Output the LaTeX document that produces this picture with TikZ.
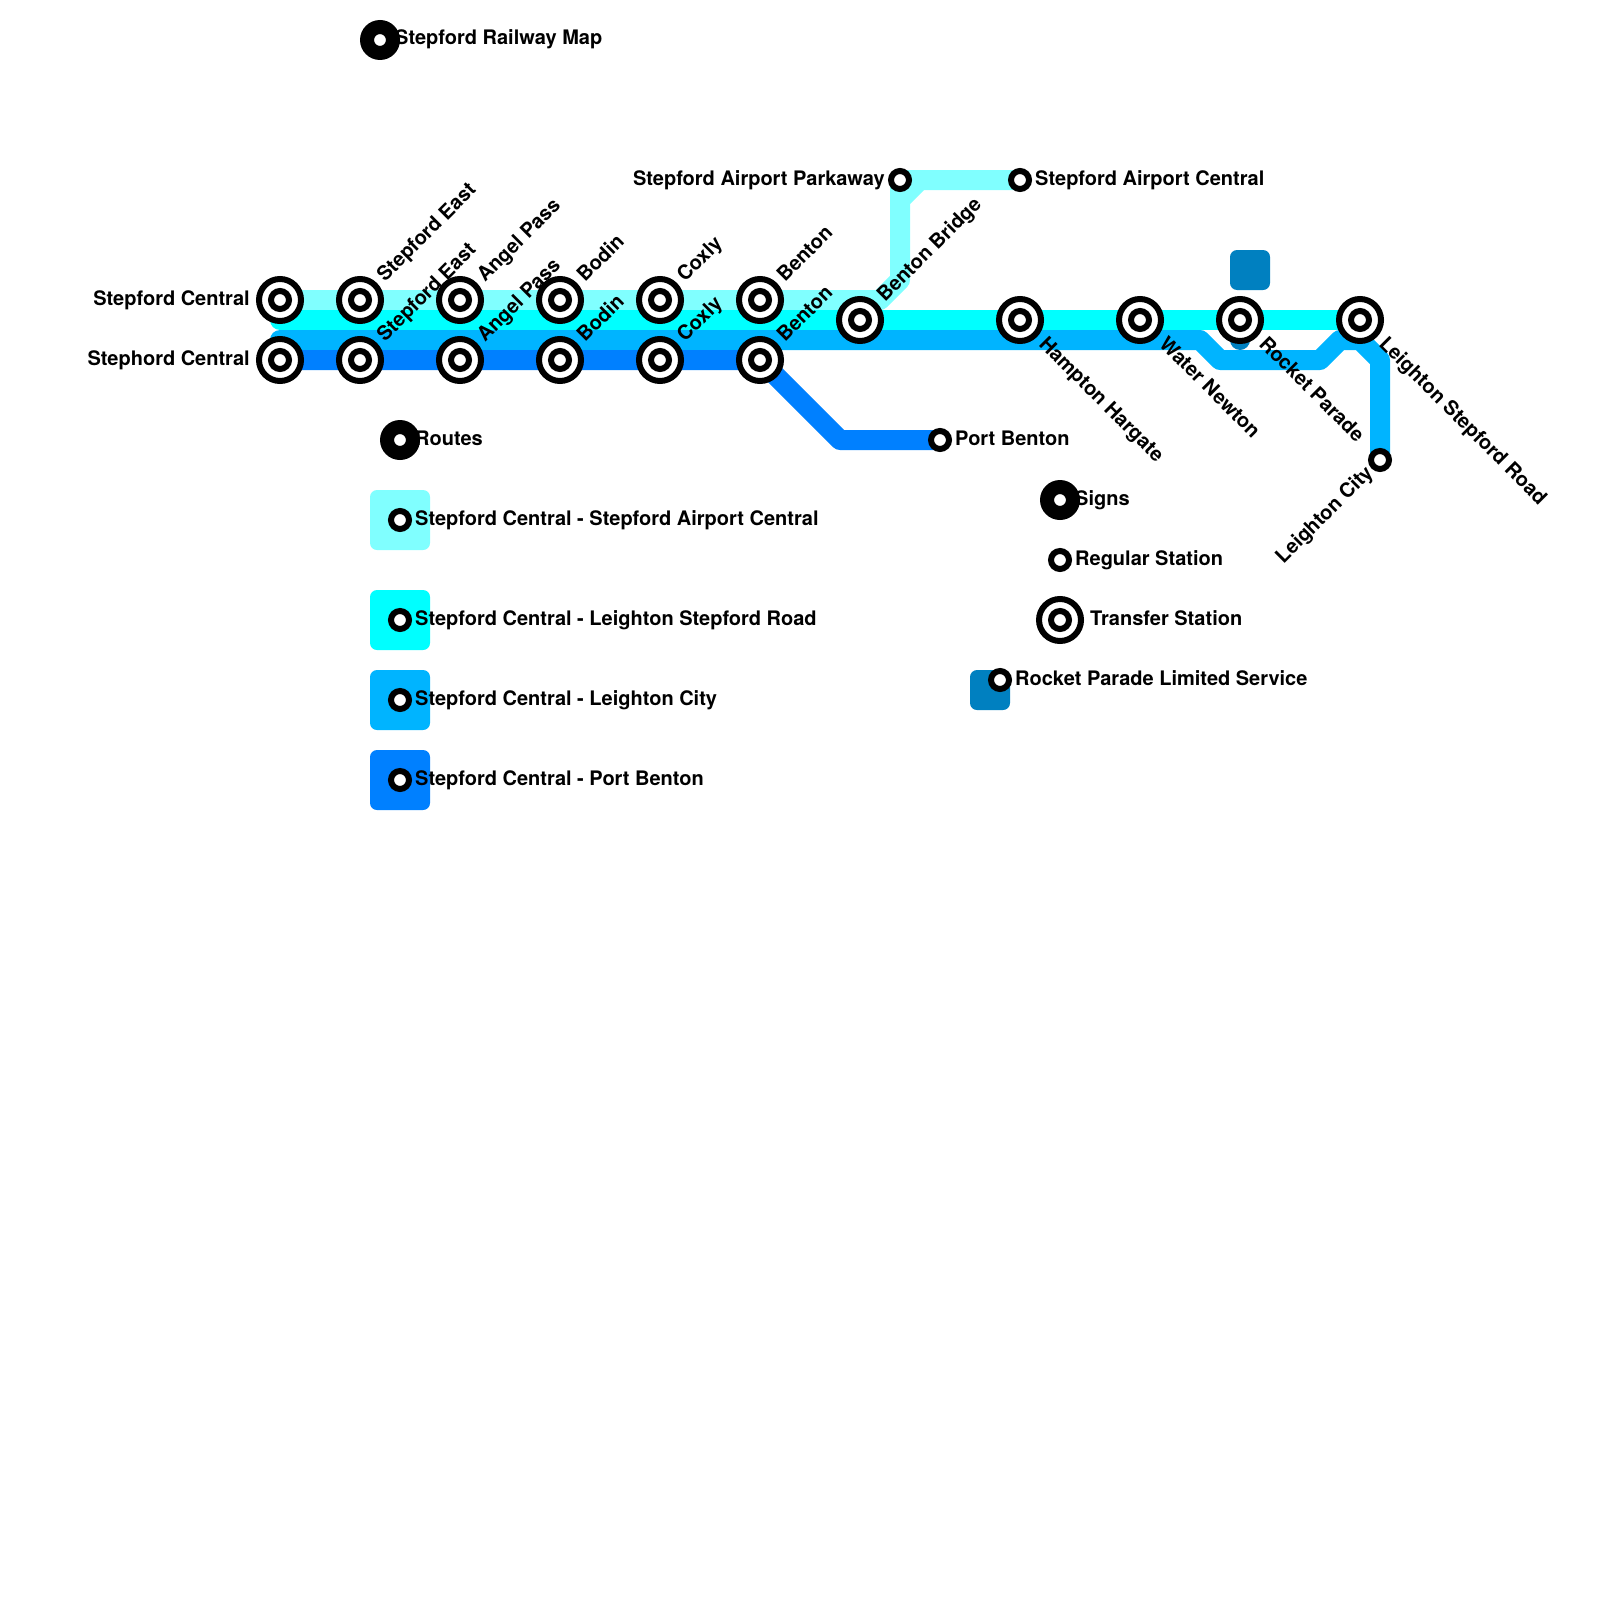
\documentclass[tikz,border=0pt]{standalone}
\usepackage{fontspec}
\setmainfont{TeX Gyre Heros}
\usetikzlibrary{backgrounds}
\definecolor{airportline}{HTML}{80FFFF}
\definecolor{leightonline}{HTML}{00FFFF}
\definecolor{cityline}{HTML}{00B4FF}
\definecolor{portline}{HTML}{0080FF}
\definecolor{rocketline}{HTML}{0080C0}
\tikzset{
    smallstn/.style={circle, draw=black, fill=white, line width=6pt, minimum size=18pt, inner sep=0pt},
    bigstn/.style={circle, draw=black, fill=white, line width=6pt, minimum size=42pt, inner sep=0pt},
    signdot/.style={circle, fill=black, minimum size=40pt, inner sep=0pt},
    routeline/.style={line width=20pt, line join=round},
    keybox/.style={rounded corners=7pt, minimum size=60pt, inner sep=0pt},
    lbl/.style={font=\fontsize{20}{24}\selectfont\bfseries, inner sep=0pt},
    lblr/.style={lbl, anchor=base west},
    lbll/.style={lbl, anchor=base east},
    lblup/.style={lbl, anchor=base west, xshift=25pt, yshift=17pt, rotate=45},
    lbldown/.style={lbl, anchor=base west, xshift=18pt, yshift=-25pt, rotate=-45}
}

\begin{document}
\begin{tikzpicture}[x=1pt, y=-1pt]
\useasboundingbox (0,0) rectangle (1600,1600);

% Umsteigebahnhoefe
\foreach \n/\x/\y in {sca/280/300, scb/280/360, ea/360/300, eb/360/360, pa/460/300, pb/460/360,
    ba/560/300, bb/560/360, ca/660/300, cb/660/360, bea/760/300, beb/760/360,
    bridge/860/320, hampton/1020/320, water/1140/320, rocket/1240/320, leighton/1360/320} {
    \node[bigstn] (\n) at (\x,\y) {};
    \node[smallstn] (\n-in) at (\n) {};
}

% Einfache Bahnhoefe
\node[smallstn] (parkway) at (900,180) {};
\node[smallstn] (airport) at (1020,180) {};
\node[smallstn] (port) at (940,440) {};
\node[smallstn] (city) at (1380,460) {};

% Linien
\begin{scope}[on background layer]
\fill[rocketline] (1240,340) circle (10);
\draw[routeline, airportline] (sca.center) -- (880,300) -- (900,280) -- (900,200) -- (920,180) -- (airport.center);
\draw[routeline, airportline] (900,200) -- (parkway.center) -- (920,180);
\draw[routeline, leightonline] (sca.center) -- (280,320) -- (1360,320) -- (leighton.center);
\draw[routeline, cityline] (scb.center) -- (280,340) -- (1200,340) -- (1220,360) -- (1320,360)
    -- (1340,340) -- (1360,340) -- (1380,360) -- (city.center);
\draw[routeline, portline] (scb.center) -- (beb.center) -- (840,440) -- (port.center);
\end{scope}

% Rocket Parade Endpunkt
\node[keybox, fill=rocketline, minimum size=40pt] (rocketend) at (1250,270) {};

% Beschriftung links und oben
\node[lbll] (lsca) at (250,305) {Stepford Central};
\node[lbll] (lscb) at (250,365) {Stephord Central};
\node[lbll] (lparkway) at (885,185) {Stepford Airport Parkaway};
\node[lblr] (lairport) at (1035,185) {Stepford Airport Central};
\node[lblr] (lport) at (955,445) {Port Benton};

\foreach \n/\t in {ea/Stepford East, eb/Stepford East, pa/Angel Pass, pb/Angel Pass, ba/Bodin, bb/Bodin,
    ca/Coxly, cb/Coxly, bea/Benton, beb/Benton, bridge/Benton Bridge} {
    \node[lblup] (l\n) at (\n) {\t};
}
\foreach \n/\t in {hampton/Hampton Hargate, water/Water Newton, rocket/Rocket Parade, leighton/Leighton Stepford Road} {
    \node[lbldown] (l\n) at (\n) {\t};
}
\node[lbl, anchor=base east, xshift=-6pt, yshift=-14pt, rotate=45] (lcity) at (city) {Leighton City};

% Titel
\node[signdot] (titledot) at (380,40) {};
\node[smallstn] (titlestn) at (titledot) {};
\node[lblr] (ltitle) at (395,45) {Stepford Railway Map};

% Routen
\node[signdot] (routesdot) at (400,440) {};
\node[smallstn] (routesstn) at (routesdot) {};
\node[lblr] (lroutes) at (415,445) {Routes};
\foreach \n/\c/\y/\t in {ka/airportline/520/Stepford Central - Stepford Airport Central,
    kb/leightonline/620/Stepford Central - Leighton Stepford Road,
    kc/cityline/700/Stepford Central - Leighton City,
    kd/portline/780/Stepford Central - Port Benton} {
    \node[keybox, fill=\c] (\n) at (400,\y) {};
    \node[smallstn] (\n-stn) at (\n) {};
    \node[lblr, yshift=-5pt] (l\n) at (415,\y) {\t};
}

% Zeichen
\node[signdot] (signsdot) at (1060,500) {};
\node[smallstn] (signsstn) at (signsdot) {};
\node[lblr] (lsigns) at (1075,505) {Signs};
\node[smallstn] (regular) at (1060,560) {};
\node[lblr] (lregular) at (1075,565) {Regular Station};
\node[bigstn] (transfer) at (1060,620) {};
\node[smallstn] (transfer-in) at (transfer) {};
\node[lblr] (ltransfer) at (1090,625) {Transfer Station};
\node[keybox, fill=rocketline, minimum size=40pt] (limited) at (990,690) {};
\node[smallstn] (limitedstn) at (1000,680) {};
\node[lblr] (llimited) at (1015,685) {Rocket Parade Limited Service};
\end{tikzpicture}
\end{document}
